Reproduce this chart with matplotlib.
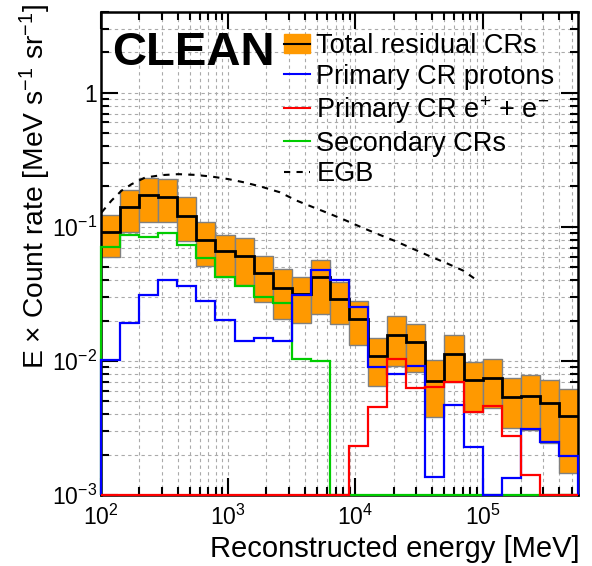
import matplotlib
matplotlib.use('Agg')
import matplotlib.pyplot as plt
import numpy as np
from matplotlib.patches import Patch
from matplotlib.lines import Line2D
from matplotlib.ticker import LogLocator, FixedLocator, FixedFormatter, NullFormatter

plt.rcParams['font.family'] = ['Liberation Sans', 'DejaVu Sans']
plt.rcParams['mathtext.fontset'] = 'custom'
plt.rcParams['mathtext.rm'] = 'Liberation Sans'
plt.rcParams['mathtext.it'] = 'Liberation Sans'

# bin edges: log10(E/MeV) from 2 to 5.75 in steps of 0.15
log_edges = [2.0, 2.15, 2.3, 2.45, 2.6, 2.75, 2.9, 3.05, 3.2, 3.35, 3.5, 3.65, 3.8,
             3.95, 4.1, 4.25, 4.4, 4.55, 4.7, 4.85, 5.0, 5.15, 5.3, 5.45, 5.6, 5.75]

total = [0.092, 0.140, 0.173, 0.168, 0.121, 0.080, 0.0658, 0.0611, 0.0451, 0.0347,
         0.0317, 0.0421, 0.0288, 0.0207, 0.0108, 0.0155, 0.0138, 0.00706, 0.0112,
         0.00718, 0.0074, 0.0054, 0.00549, 0.00482, 0.00388]
total_hi = [0.1226, 0.188, 0.231, 0.227, 0.166, 0.109, 0.0871, 0.0827, 0.0611, 0.0486,
            0.0421, 0.057, 0.0391, 0.0279, 0.01482, 0.0215, 0.01875, 0.01012, 0.0157,
            0.00984, 0.01042, 0.00748, 0.00783, 0.00719, 0.00613]
total_lo = [0.0593, 0.092, 0.109, 0.109, 0.0789, 0.0508, 0.0426, 0.037, 0.0275, 0.0207,
            0.0192, 0.0225, 0.019, 0.01324, 0.00652, 0.00914, 0.00828, 0.00384, 0.00698,
            0.00413, 0.00443, 0.00314, 0.00305, 0.00243, 0.00146]
protons = [0.0101, 0.0192, 0.0308, 0.0398, 0.0365, 0.0279, 0.0203, 0.014, 0.0147, 0.0141,
           0.0311, 0.0478, 0.0398, 0.0252, 0.00902, 0.00796, 0.00918, 0.00137, 0.00469,
           0.00227, 0.0, 0.00135, 0.0031, 0.0025, 0.00196]
electrons = [0, 0, 0, 0, 0, 0, 0, 0, 0, 0, 0, 0, 0, 0.0023, 0.00455, 0.0104, 0.0063,
             0.00641, 0.00691, 0.00413, 0.00463, 0.00275, 0.0014, 0.0, 0.0]
secondary = [0.0713, 0.0871, 0.0846, 0.0901, 0.0738, 0.0583, 0.0426, 0.0361, 0.0299,
             0.0272, 0.0104, 0.00995, 0, 0, 0, 0, 0, 0, 0, 0, 0, 0, 0, 0, 0]

egb_e = [101, 121, 145, 174, 222, 300, 405, 547, 741, 1000, 1352, 1828, 2546, 3443,
         4652, 6293, 8511, 11490, 15550, 21030, 28390, 38380, 51980, 70190, 86700]
egb_v = [0.128, 0.157, 0.186, 0.208, 0.233, 0.243, 0.247, 0.244, 0.237, 0.227, 0.214,
         0.199, 0.181, 0.157, 0.140, 0.125, 0.111, 0.098, 0.0871, 0.0776, 0.0685,
         0.0604, 0.0536, 0.0472, 0.041]

ymin, ymax = 1e-3, 4.0
edges = 10 ** np.array(log_edges)
widths = np.diff(edges)

fig = plt.figure(figsize=(5.92, 5.66), dpi=100)
ax = fig.add_axes([101/592, 1-495/566, 477/592, 483/566])
ax.set_xscale('log')
ax.set_yscale('log')

# grid first
ax.grid(True, which='both', ls=(0, (3, 3)), color='#aaaaaa', lw=0.8)
ax.set_axisbelow(True)

lo = np.array(total_lo)
hi = np.array(total_hi)
ax.bar(edges[:-1], hi - lo, bottom=lo, width=widths, align='edge',
       color='#ff9900', edgecolor='#808080', lw=1.0, zorder=2)

def clipv(v):
    return np.maximum(np.array(v, dtype=float), ymin)

ax.stairs(clipv(total), edges, baseline=None, color='black', lw=2.0, zorder=3)
ax.stairs(clipv(secondary), edges, baseline=ymin, color='#00cc00', lw=1.6, zorder=4, clip_on=False)
ax.stairs(clipv(protons), edges, baseline=ymin, color='#0000ff', lw=1.6, zorder=5, clip_on=False)
ax.stairs(clipv(electrons), edges, baseline=ymin, color='#ff0000', lw=1.6, zorder=6, clip_on=False)
ax.plot(egb_e, egb_v, color='black', ls=(0, (3, 3)), lw=1.5, zorder=7)

ax.set_xlim(edges[0], edges[-1])
ax.set_ylim(ymin, ymax)

ax.xaxis.set_major_locator(FixedLocator([1e2, 1e3, 1e4, 1e5]))
ax.xaxis.set_major_formatter(FixedFormatter(['10$^2$', '10$^3$', '10$^4$', '10$^5$']))
ax.xaxis.set_minor_locator(LogLocator(base=10, subs=np.arange(2, 10), numticks=20))
ax.xaxis.set_minor_formatter(NullFormatter())
ax.yaxis.set_major_locator(FixedLocator([1e-3, 1e-2, 1e-1, 1]))
ax.yaxis.set_major_formatter(FixedFormatter(['10$^{-3}$', '10$^{-2}$', '10$^{-1}$', '1']))
ax.yaxis.set_minor_locator(LogLocator(base=10, subs=np.arange(2, 10), numticks=20))
ax.yaxis.set_minor_formatter(NullFormatter())
ax.tick_params(which='both', direction='in', top=True, right=True, width=1.5, labelsize=16.5)
ax.tick_params(which='major', length=12)
ax.tick_params(which='minor', length=6)
ax.tick_params(axis='x', pad=7)
ax.tick_params(axis='y', pad=3)
for s in ax.spines.values():
    s.set_linewidth(1.8)

fig.text(580/592, 1-549/566, 'Reconstructed energy [MeV]', ha='right', va='center', fontsize=21)
fig.text(35/592, 1-4/566, r'E $\times$ Count rate [MeV s$^{-1}$ sr$^{-1}$]',
         ha='center', va='top', rotation=90, fontsize=20.3)

ax.text(112/592, 1-53/566, 'CLEAN', transform=fig.transFigure, ha='left', va='center',
        fontsize=34, fontweight='bold')

handles = [(Patch(facecolor='#ff9900', edgecolor='#ff9900'), Line2D([], [], color='black', lw=1.5)),
           Line2D([], [], color='#0000ff', lw=1.5),
           Line2D([], [], color='#ff0000', lw=1.5),
           Line2D([], [], color='#00cc00', lw=1.5),
           Line2D([], [], color='black', ls=(0, (3, 3)), lw=1.5)]
labels = ['Total residual CRs', 'Primary CR protons', 'Primary CR e$^{+}$ + e$^{-}$',
          'Secondary CRs', 'EGB']
leg = fig.legend(handles, labels, loc='upper left', bbox_to_anchor=(284/592, 1-33/566),
                 frameon=False, fontsize=19.5, handlelength=0.95, handletextpad=0.25,
                 labelspacing=0.17, borderaxespad=0, borderpad=0)

fig.savefig('out.png', dpi=100)
